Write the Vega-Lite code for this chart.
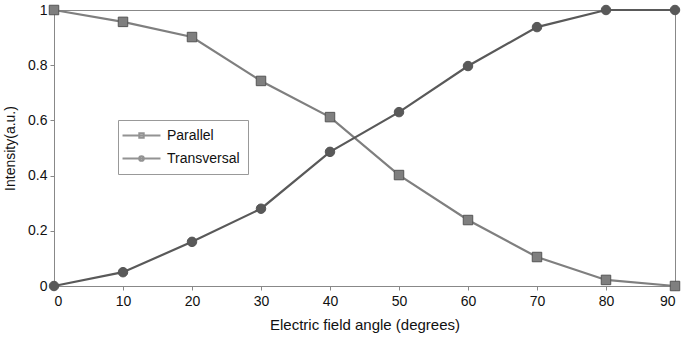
{
  "$schema": "https://vega.github.io/schema/vega-lite/v6.json",
  "autosize": "none",
  "width": 621,
  "height": 276,
  "padding": {"left": 54, "top": 10, "right": 6, "bottom": 57},
  "background": "white",
  "config": {
    "view": {"stroke": "#888", "strokeWidth": 1},
    "font": "Liberation Sans",
    "axis": {"grid": false, "domainColor": "#888", "tickColor": "#888", "labelColor": "#111", "titleColor": "#111", "labelFontSize": 14, "titleFontSize": 14, "titleFontWeight": "normal", "tickSize": 4}
  },
  "data": {"values": [
    {"angle": 0, "series": "Parallel", "v": 1.0},
    {"angle": 10, "series": "Parallel", "v": 0.957},
    {"angle": 20, "series": "Parallel", "v": 0.902},
    {"angle": 30, "series": "Parallel", "v": 0.743},
    {"angle": 40, "series": "Parallel", "v": 0.612},
    {"angle": 50, "series": "Parallel", "v": 0.402},
    {"angle": 60, "series": "Parallel", "v": 0.239},
    {"angle": 70, "series": "Parallel", "v": 0.105},
    {"angle": 80, "series": "Parallel", "v": 0.022},
    {"angle": 90, "series": "Parallel", "v": 0.0},
    {"angle": 0, "series": "Transversal", "v": 0.0},
    {"angle": 10, "series": "Transversal", "v": 0.05},
    {"angle": 20, "series": "Transversal", "v": 0.16},
    {"angle": 30, "series": "Transversal", "v": 0.28},
    {"angle": 40, "series": "Transversal", "v": 0.486},
    {"angle": 50, "series": "Transversal", "v": 0.63},
    {"angle": 60, "series": "Transversal", "v": 0.797},
    {"angle": 70, "series": "Transversal", "v": 0.938},
    {"angle": 80, "series": "Transversal", "v": 1.0},
    {"angle": 90, "series": "Transversal", "v": 1.0}
  ]},
  "encoding": {
    "x": {"field": "angle", "type": "quantitative", "scale": {"domain": [0, 90], "nice": false}, "axis": {"values": [0,10,20,30,40,50,60,70,80,90], "title": "Electric field angle (degrees)", "titleFontSize": 15, "titlePadding": 9, "labelPadding": 4}},
    "y": {"field": "v", "type": "quantitative", "scale": {"domain": [0, 1], "nice": false}, "axis": {"values": [0, 0.2, 0.4, 0.6, 0.8, 1], "labelExpr": "datum.value", "title": "Intensity(a.u.)", "titlePadding": 10, "labelPadding": 3}},
    "color": {"field": "series", "type": "nominal", "scale": {"domain": ["Parallel", "Transversal"], "range": ["#7f7f7f", "#595959"]}, "legend": null}
  },
  "layer": [
    {"mark": {"type": "line", "strokeWidth": 2.2}},
    {"mark": {"type": "point", "filled": true, "size": 90, "opacity": 1, "stroke": "#555", "strokeWidth": 1},
     "encoding": {"shape": {"field": "series", "type": "nominal", "scale": {"domain": ["Parallel", "Transversal"], "range": ["square", "circle"]}, "legend": null}}},
    {"transform": [{"filter": "datum.v > 5"}],
     "mark": {"type": "point", "filled": false},
     "encoding": {"shape": {"field": "series", "type": "nominal",
        "scale": {"domain": ["Parallel", "Transversal"], "range": ["M-3,0H3M-0.35,-0.35H0.35V0.35H-0.35Z", "M-3,0H3M0.37,0A0.37,0.37,0,1,1,-0.37,0A0.37,0.37,0,1,1,0.37,0Z"]},
        "legend": {"orient": "none", "legendX": 64, "legendY": 110, "title": null, "strokeColor": "#999", "padding": 8, "labelFontSize": 14, "labelColor": "#111", "symbolSize": 160, "symbolStrokeColor": "#666", "symbolFillColor": "#777", "symbolStrokeWidth": 2, "labelOffset": 18, "rowPadding": 8, "fillColor": "white", "symbolOffset": 8}}}}
  ],
  "resolve": {"scale": {"shape": "independent"}, "legend": {"shape": "independent"}}
}
